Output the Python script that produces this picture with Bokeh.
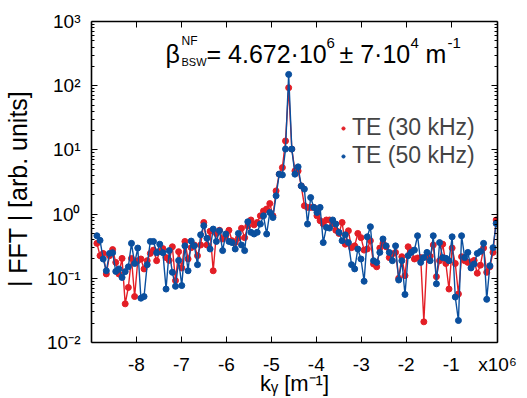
import numpy as np
from bokeh.plotting import figure
from bokeh.models import (LinearAxis, LogAxis, FixedTicker, Range1d, Label,
                          Legend, LegendItem, CustomJSTickFormatter)
from bokeh.embed import file_html
from bokeh.resources import INLINE

# ---------------- data ----------------
k_first = -8.88e6          # first FFT bin [m^-1]
k_last = 0.0               # last FFT bin [m^-1]

fft_te30 = [0.35, 0.225, 0.244, 0.117, 0.225, 0.28, 0.177, 0.117, 0.204, 0.04,
            0.072, 0.204, 0.052, 0.188, 0.2, 0.14, 0.188, 0.244, 0.275, 0.188,
            0.262, 0.29, 0.21, 0.19, 0.31, 0.092, 0.26, 0.145, 0.375, 0.2,
            0.30, 0.33, 0.225, 0.33, 0.74, 0.33, 0.54, 0.131, 0.5, 0.56,
            0.41, 0.46, 0.56, 0.385, 0.36, 0.42, 0.6, 0.43, 0.65, 0.81,
            0.68, 0.74, 0.94, 1.12, 1.2, 1.46, 0.94, 2.3, 4.19, 5.3,
            13.8, 93, 10.3, 4.7, 4.7, 2.75, 1.35, 1.27, 1.27, 1.27,
            0.94, 0.79, 0.70, 0.81, 0.81, 0.70, 0.56, 0.5, 0.74, 0.34,
            0.55, 0.30, 0.32, 0.5, 0.43, 0.275, 0.286, 0.385, 0.167, 0.151,
            0.296, 0.35, 0.31, 0.21, 0.24, 0.253, 0.10, 0.217, 0.11, 0.31,
            0.27, 0.2, 0.207, 0.21, 0.021, 0.217, 0.22, 0.33, 0.106, 0.188,
            0.34, 0.17, 0.068, 0.296, 0.17, 0.057, 0.217, 0.188, 0.177, 0.18,
            0.19, 0.12, 0.16, 0.296, 0.124, 0.151, 0.253, 0.81]

fft_te50 = [0.46, 0.39, 0.20, 0.131, 0.244, 0.25, 0.128, 0.14, 0.103, 0.127,
            0.151, 0.35, 0.17, 0.296, 0.049, 0.052, 0.163, 0.375, 0.375, 0.25,
            0.34, 0.25, 0.068, 0.27, 0.124, 0.075, 0.19, 0.077, 0.32, 0.131,
            0.38, 0.32, 0.163, 0.476, 0.66, 0.42, 0.286, 0.585, 0.375, 0.55,
            0.27, 0.49, 0.375, 0.36, 0.286, 0.5, 0.33, 0.27, 0.76, 0.52,
            0.49, 0.52, 0.70, 0.94, 0.49, 1.06, 0.885, 1.93, 4.19, 4.08,
            10.3, 150, 10.3, 4.19, 5.44, 2.75, 2.45, 0.70, 1.81, 1.27,
            1.06, 1.27, 0.36, 0.62, 0.606, 0.81, 0.70, 0.52, 0.385, 0.476,
            0.36, 0.163, 0.14, 0.286, 0.2, 0.09, 0.443, 0.635, 0.188, 0.177,
            0.253, 0.41, 0.32, 0.253, 0.188, 0.32, 0.094, 0.188, 0.056, 0.225,
            0.253, 0.275, 0.46, 0.177, 0.21, 0.253, 0.188, 0.46, 0.082, 0.36,
            0.21, 0.205, 0.188, 0.443, 0.051, 0.022, 0.46, 0.21, 0.253, 0.145,
            0.167, 0.244, 0.262, 0.35, 0.047, 0.157, 0.30, 0.715]

series_names = ["TE (30 kHz)", "TE (50 kHz)"]
x_ticks = [-8e6, -7e6, -6e6, -5e6, -4e6, -3e6, -2e6, -1e6]
x_multiplier_label = "x10⁶"
y_exponents = [-2, -1, 0, 1, 2, 3]
y_tick_labels = ["10⁻²", "10⁻¹", "10⁰", "10¹", "10²", "10³"]
x_axis_title = "kᵧ [m⁻¹]"
y_axis_title = "| FFT |   [arb. units]"

# ---------------- styling ----------------
FONT = "Liberation Sans"
RED = "#E31E26"
BLUE = "#0A4F9E"
X0, X1 = -9.0e6, 0.03e6
Y0, Y1 = 1e-2, 1e3
FW, FH = 406, 321

k = np.linspace(k_first, k_last, len(fft_te30))

p = figure(frame_width=FW, frame_height=FH, y_axis_type="log",
           x_range=Range1d(X0, X1), y_range=Range1d(Y0, Y1),
           output_backend="svg", toolbar_location=None,
           min_border_left=91, min_border_right=22, min_border_top=21,
           min_border_bottom=56)
p.xgrid.visible = False
p.ygrid.visible = False
p.outline_line_color = None
p.background_fill_color = "white"
p.border_fill_color = "white"

minor = [m * 10.0 ** e for e in range(-2, 3) for m in range(2, 10)]
yticks = [10.0 ** e for e in y_exponents]
yticker = FixedTicker(ticks=yticks, minor_ticks=minor)
xticker = FixedTicker(ticks=x_ticks, minor_ticks=[])
# bottom axis also carries the multiplier label at the right end of the axis
xticker_b = FixedTicker(ticks=x_ticks + [X1 - 1.0], minor_ticks=[])


def style_axis(ax, labels=False):
    ax.axis_line_color = "black"
    ax.axis_line_width = 1.6
    ax.major_tick_line_color = "black"
    ax.minor_tick_line_color = "black"
    ax.major_tick_in = 6
    ax.major_tick_out = 0
    ax.minor_tick_in = 3
    ax.minor_tick_out = 0
    if labels:
        ax.major_label_text_font = FONT
        ax.major_label_text_color = "black"
        ax.major_label_text_font_size = "19px"
    else:
        ax.major_label_text_alpha = 0
        ax.major_label_text_font_size = "1px"
        ax.major_label_standoff = 0


# bottom
xb = p.xaxis[0]
xb.ticker = xticker_b
style_axis(xb, labels=True)
xb.formatter = CustomJSTickFormatter(
    args=dict(mult=x_multiplier_label),
    code="return tick > -0.5e6 ? mult : (tick/1e6).toFixed(0);")
xb.major_label_standoff = 11
xb.axis_label = x_axis_title
xb.axis_label_text_font = FONT
xb.axis_label_text_font_size = "22px"
xb.axis_label_text_font_style = "normal"
xb.axis_label_text_color = "black"
xb.axis_label_standoff = -7

# left
yl = p.yaxis[0]
yl.ticker = yticker
style_axis(yl, labels=True)
yl.major_label_overrides = {t: s for t, s in zip(yticks, y_tick_labels)}
yl.major_label_standoff = 11
yl.axis_label = y_axis_title
yl.axis_label_text_font = FONT
yl.axis_label_text_font_size = "25px"
yl.axis_label_text_font_style = "normal"
yl.axis_label_text_color = "black"
yl.axis_label_standoff = 12

# top & right
xt = LinearAxis(ticker=xticker)
style_axis(xt)
p.add_layout(xt, "above")
yr = LogAxis(ticker=yticker)
style_axis(yr)
p.add_layout(yr, "right")

# ---------------- data glyphs ----------------
r_line30 = p.line(k, fft_te30, line_color=RED, line_width=1.4)
r_pts30 = p.scatter(k, fft_te30, size=6, fill_color=RED, line_color=RED)
r_line50 = p.line(k, fft_te50, line_color=BLUE, line_width=1.4)
r_pts50 = p.scatter(k, fft_te50, size=6, fill_color=BLUE, line_color=BLUE)

legend = Legend(items=[LegendItem(label=series_names[0], renderers=[r_pts30]),
                       LegendItem(label=series_names[1], renderers=[r_pts50])],
                location=(248, 173), background_fill_alpha=0, border_line_alpha=0,
                label_text_font=FONT, label_text_font_size="23px",
                glyph_width=8, glyph_height=8, label_standoff=5, spacing=1,
                padding=0, margin=0, label_height=24)
p.add_layout(legend)


# ---------------- title (inside the frame) ----------------
def fx(dx):
    return X0 + (X1 - X0) * dx / FW


def fy(dy):
    l0, l1 = np.log10(Y0), np.log10(Y1)
    return 10.0 ** (l1 - (l1 - l0) * dy / FH)


def txt(px, py, s, size):
    # px, py: page pixels; frame left = 91, frame top = 21
    p.add_layout(Label(x=fx(px - 91), y=fy(py - 21), text=s,
                       text_font=FONT, text_font_size=f"{size}px",
                       text_align="left", text_baseline="alphabetic",
                       text_color="black"))


txt(165, 53, "β", 25)
txt(181, 40, "NF", 12)
txt(181, 61, "BSW", 11)
txt(206, 53, "= 4.672·10", 25)
txt(326, 42, "6", 15)
txt(339, 53, "± 7·10", 25)
txt(410, 42, "4", 15)
txt(425, 53, "m", 25)
txt(447, 42, "-1", 15)

open("out.html", "w").write(file_html(p, INLINE))
